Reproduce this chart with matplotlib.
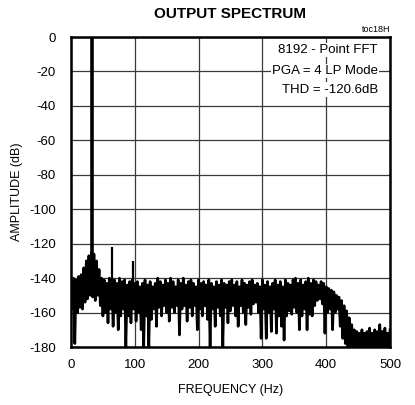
import numpy as np
import matplotlib.pyplot as plt

plt.rcParams['font.family'] = ['Liberation Sans', 'DejaVu Sans']
plt.rcParams['axes.unicode_minus'] = False

# spectrum: peaks of the noise every 4 Hz (0..500)
noise_top_db = [
    -143, -140, -141, -139, -138, -134, -130, -127, -125, -126,
    -130, -135, -140, -141, -143, -140, -142, -141, -143, -140,
    -142, -141, -144, -142, -141, -143, -142, -145, -143, -141,
    -144, -142, -145, -143, -140, -142, -144, -141, -143, -140,
    -142, -145, -141, -143, -140, -144, -142, -141, -143, -145,
    -141, -143, -142, -144, -141, -143, -145, -142, -144, -141,
    -143, -144, -142, -141, -144, -142, -145, -141, -143, -144,
    -142, -141, -144, -143, -145, -141, -144, -142, -145, -143,
    -141, -144, -142, -145, -141, -143, -144, -141, -140, -143,
    -141, -144, -142, -140, -143, -141, -142, -144, -142, -143,
    -145, -146, -147, -148, -150, -151, -153, -156, -159, -163,
    -167, -170, -171, -172, -170, -172, -171, -169, -172, -170,
    -171, -167, -171, -169, -172, -170,
]
# troughs of the noise, halfway between the peaks (2..498)
noise_bottom_db = [
    -158, -178, -160, -157, -158, -154, -152, -150, -151, -153,
    -150, -156, -162, -160, -166, -158, -168, -160, -170, -162,
    -158, -180, -162, -166, -158, -165, -160, -170, -180, -162,
    -180, -164, -158, -168, -157, -162, -156, -160, -165, -157,
    -160, -156, -173, -158, -156, -165, -157, -162, -156, -170,
    -158, -162, -156, -164, -180, -158, -168, -157, -162, -180,
    -157, -166, -159, -156, -162, -168, -156, -160, -167, -157,
    -161, -155, -154, -160, -175, -158, -175, -160, -171, -158,
    -172, -162, -168, -176, -162, -159, -161, -157, -160, -170,
    -162, -158, -170, -161, -162, -156, -153, -152, -155, -172,
    -160, -158, -170, -160, -158, -168, -175, -178, -180, -180,
    -180, -180, -180, -180, -180, -180, -180, -180, -180, -180,
    -180, -180, -180, -180, -180,
]

# fundamental and harmonics
tone_freq = [32.5, 65, 97.5]
tone_db = [0, -122, -130]

notes = ['8192 - Point FFT', 'PGA = 4 LP Mode', 'THD = -120.6dB']
note_y = [-7.5, -19.5, -30.5]

top_freq = np.arange(len(noise_top_db)) * 4.0
bottom_freq = np.arange(len(noise_bottom_db)) * 4.0 + 2.0
freq = np.empty(len(top_freq) + len(bottom_freq))
level = np.empty_like(freq)
freq[0::2] = top_freq
freq[1::2] = bottom_freq
level[0::2] = noise_top_db
level[1::2] = noise_bottom_db

fig = plt.figure(figsize=(4.15, 4.05), dpi=100)
ax = fig.add_axes([71 / 415, 58 / 405, 319 / 415, 310 / 405])

ax.plot(freq, level, color='black', lw=1.9, zorder=3)
ax.vlines(tone_freq[0], -150, tone_db[0], color='black', lw=2.6, zorder=4)
ax.vlines(tone_freq[1:], -145, tone_db[1:], color='black', lw=1.6, zorder=4)

ax.set_xlim(0, 500)
ax.set_ylim(-180, 0)
ax.set_xticks(np.arange(0, 501, 100))
ax.set_yticks(np.arange(-180, 1, 20))
ax.grid(True, color='#3a3a3a', lw=0.9)
ax.set_axisbelow(True)
ax.tick_params(length=0, labelsize=9.5)
ax.tick_params(axis='x', pad=9)
ax.tick_params(axis='y', pad=11)
for s in ax.spines.values():
    s.set_linewidth(1.8)

ax.set_xlabel('FREQUENCY (Hz)', fontsize=9, labelpad=9)
ax.set_ylabel('AMPLITUDE (dB)', fontsize=9, labelpad=4)
ax.set_title('OUTPUT SPECTRUM', fontsize=11, fontweight='bold', pad=14)
ax.text(1.0, 1.01, 'toc18H', transform=ax.transAxes, ha='right', va='bottom', fontsize=6.5)
for note, y in zip(notes, note_y):
    ax.text(481, y, note, ha='right', va='center', fontsize=9.5,
            bbox=dict(facecolor='white', edgecolor='none', pad=0.8), zorder=5)

fig.savefig('out.png', dpi=100)
